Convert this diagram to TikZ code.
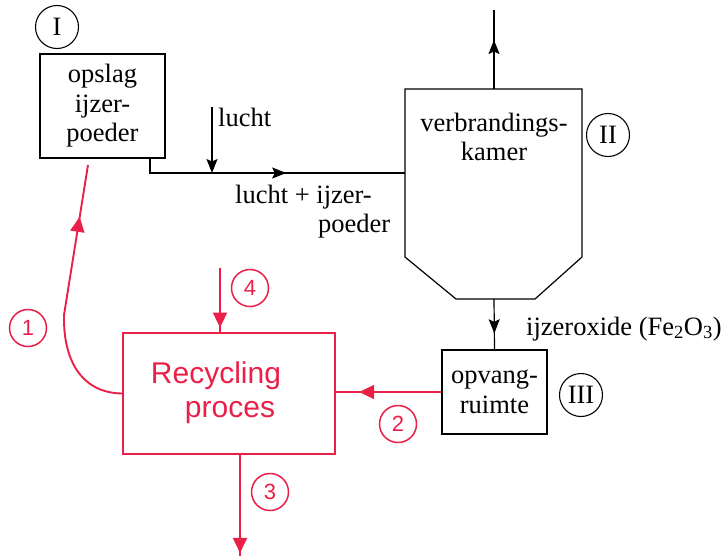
\documentclass[tikz,border=0pt]{standalone}
\usepackage{fontspec}
\setmainfont{Liberation Serif}
\newfontfamily\handfont{Liberation Sans}
\usetikzlibrary{arrows.meta,decorations.markings}
\definecolor{rd}{RGB}{234,32,72}
\tikzset{
  blk/.style={draw, line width=1.2pt},
  box/.style={draw, line width=1.2pt, align=center, inner sep=0pt,
    font=\fontsize{26.5}{29.5}\selectfont},
  txt/.style={inner sep=0pt, font=\fontsize{26.5}{29.5}\selectfont},
  lbl/.style={circle, draw, line width=1.1pt, minimum size=43pt, inner sep=0pt,
    font=\fontsize{26.5}{29.5}\selectfont},
  redl/.style={draw=rd, line width=1.9pt},
  redtxt/.style={inner sep=0pt, text=rd, font=\handfont\fontsize{30}{38}\selectfont},
  redlbl/.style={circle, draw=rd, text=rd, line width=1.5pt, minimum size=37pt,
    inner sep=0pt, font=\handfont\fontsize{22}{22}\selectfont},
  blkhead/.tip={Stealth[length=14pt,width=11pt,inset=2.5pt]},
  midarrow/.style={postaction={decorate},
    decoration={markings, mark=at position #1 with {\arrow{blkhead}}}},
  redmid/.style={postaction={decorate},
    decoration={markings, mark=at position #1 with {\arrow[rd]{Triangle[length=15pt,width=14pt]}}}},
}
\begin{document}
\begin{tikzpicture}[x=1pt,y=-1pt]
\useasboundingbox (0,0) rectangle (722,558);

% ---- black diagram ----
\node[lbl] (nI) at (57,27) {I};
\node[box, minimum width=125pt, minimum height=104pt] (opslag) at (102.5,106) {opslag\\ijzer-\\poeder};

% combustion chamber
\coordinate (kTL) at (405,89);
\coordinate (kTR) at (582,89);
\coordinate (kRS) at (582,257);
\coordinate (kBR) at (535,299);
\coordinate (kBL) at (456,299);
\coordinate (kLS) at (405,257);
\draw[blk] (kTL) -- (kTR) -- (kRS) -- (kBR) -- (kBL) -- (kLS) -- cycle;
\node[txt, align=center] (kamer) at (494,137) {verbrandings-\\kamer};
\node[lbl] (nII) at (608,135) {II};
\coordinate (kIn) at (405,173);
\coordinate (kTop) at (494,89);
\coordinate (kBot) at (494,299);
\coordinate (exhaust) at (494,10);

% feed line
\coordinate (feedStart) at (150,158);
\coordinate (feedCorner) at (150,173);
\draw[blk, midarrow=0.56] (feedStart) -- (feedCorner) -- (kIn);
\coordinate (luchtTop) at (212,107);
\coordinate (luchtJoin) at (212,173);
\draw[blk, -blkhead] (luchtTop) -- (luchtJoin);
\node[txt, anchor=base west] (tlucht) at (218,126) {lucht};
\node[txt, anchor=base west] (tmix1) at (235,203) {lucht + ijzer-};
\node[txt, anchor=base west] (tmix2) at (318,232) {poeder};

% exhaust
\draw[blk, midarrow=0.62] (kTop) -- (exhaust);

% oxide to collection room
\node[box, minimum width=105pt, minimum height=84pt] (opvang) at (494.5,392) {opvang-\\ruimte};
\draw[blk, midarrow=0.68] (kBot) -- (opvang.north);
\node[txt, anchor=base west] (toxide) at (526,335) {ijzeroxide (Fe\textsubscript{2}O\textsubscript{3})};
\node[lbl] (nIII) at (581,395) {III};

% ---- red annotations ----
\node[draw=rd, line width=1.9pt, minimum width=212pt, minimum height=121pt] (rec) at (229,393.5) {};
\node[redtxt] (trec1) at (216,376) {Recycling};
\node[redtxt] (trec2) at (230,413) {proces};

% arrow 1
\coordinate (c1end) at (88,165);
\draw[redl, redmid=0.80] (rec.west) .. controls (85,393) and (63,365) .. (64,315) -- (c1end);
\node[redlbl] (l1) at (28,328) {1};

% arrow 4
\coordinate (c4start) at (220,268);
\draw[redl, redmid=0.93] (c4start) -- (rec.north -| c4start);
\node[redlbl] (l4) at (250,288) {4};

% arrow 2
\draw[redl, redmid=0.78] (opvang.west) -- (rec.east |- opvang.west);
\node[redlbl] (l2) at (398,424) {2};

% arrow 3
\coordinate (c3top) at (240,454);
\coordinate (c3end) at (240,556);
\draw[redl, redmid=0.97] (c3top) -- (c3end);
\node[redlbl] (l3) at (270,492) {3};
\end{tikzpicture}
\end{document}
